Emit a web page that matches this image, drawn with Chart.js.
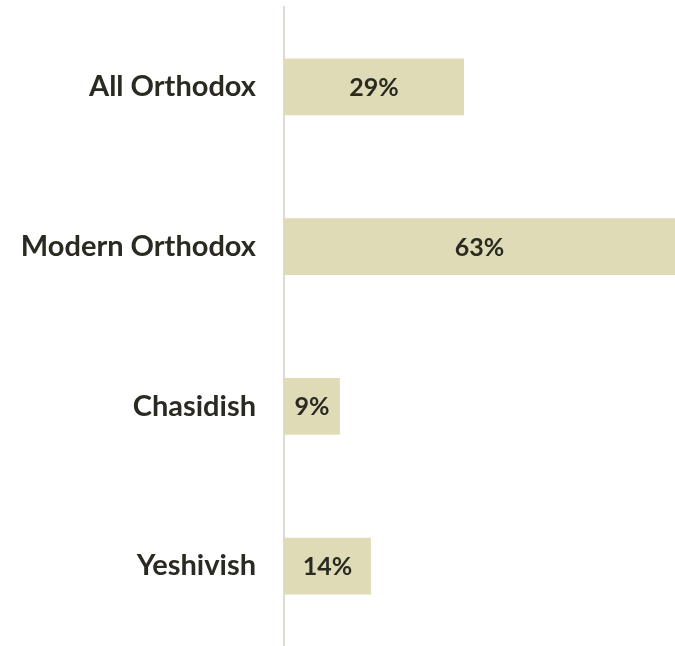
<!DOCTYPE html>
<html>
<head>
<meta charset="utf-8">
<script src="https://cdn.jsdelivr.net/npm/chart.js@4"></script>
<style>
  html, body { margin: 0; padding: 0; background: #fff; }
  #wrap { width: 675px; height: 646px; }
</style>
</head>
<body>
<div id="wrap"><canvas id="chart"></canvas></div>
<script>
// categories and values
const groups = ['All Orthodox', 'Modern Orthodox', 'Chasidish', 'Yeshivish'];
const shares = [29, 63, 9, 14];

const barColor = '#dfdbb7';
const textColor = '#2b2a22';

// percentage labels in the middle of each bar
const barLabels = {
    id: 'barLabels',
    afterDatasetsDraw(chart) {
        const ctx = chart.ctx;
        const meta = chart.getDatasetMeta(0);
        ctx.save();
        ctx.font = 'bold 25px Lato';
        ctx.fillStyle = textColor;
        ctx.textAlign = 'center';
        ctx.textBaseline = 'middle';
        meta.data.forEach((bar, i) => {
            const mid = (bar.x + bar.base) / 2;
            ctx.fillText(shares[i] + '%', mid, bar.y + 1);
        });
        ctx.restore();
    }
};

const ctx = document.getElementById('chart').getContext('2d');
new Chart(ctx, {
    type: 'bar',
    data: {
        labels: groups,
        datasets: [{
            data: shares,
            backgroundColor: barColor,
            categoryPercentage: 1,
            barPercentage: 0.354
        }]
    },
    options: {
        indexAxis: 'y',
        responsive: true,
        maintainAspectRatio: false,
        animation: false,
        layout: { padding: { top: 7, bottom: -4, right: 0 } },
        plugins: {
            legend: { display: false },
            tooltip: { enabled: false }
        },
        scales: {
            x: {
                display: false,
                min: 0,
                max: 63
            },
            y: {
                grid: { display: false, drawTicks: false },
                border: { display: true, color: '#dcdbd3', width: 2 },
                ticks: {
                    color: textColor,
                    font: { family: 'Lato', size: 29, weight: 'bold' },
                    padding: 28
                },
                afterFit(scale) {
                    scale.width = 284;
                    // no extra room above/below for the tick labels
                    scale.paddingTop = 0;
                    scale.paddingBottom = 0;
                }
            }
        }
    },
    plugins: [barLabels]
});
</script>
</body>
</html>
